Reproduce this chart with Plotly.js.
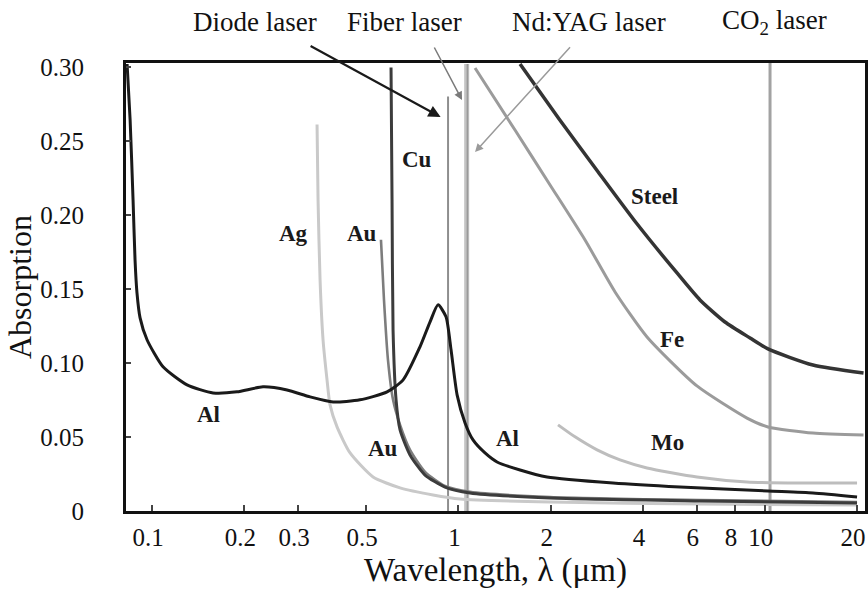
<!DOCTYPE html>
<html>
<head>
<meta charset="utf-8">
<script src="https://cdn.plot.ly/plotly-3.0.1.min.js"></script>
<style>
  html, body { margin: 0; padding: 0; background: #fff; }
  #chart { width: 868px; height: 589px; }
</style>
</head>
<body>
<div id="chart"></div>
<script>
// Absorption of metals versus wavelength (log axis), with common laser lines.

// Aluminium
const alWavelength = [0.0829, 0.0848, 0.0867, 0.0880, 0.0893, 0.0914, 0.0963, 0.1086, 0.1301, 0.1582,
  0.1894, 0.2303, 0.2758, 0.328, 0.390, 0.477, 0.585, 0.660, 0.749, 0.808, 0.858, 0.911, 0.946, 0.990,
  1.051, 1.116, 1.221, 1.337, 1.589, 1.946, 3.196, 5.287, 10.24, 14.36, 20.0];
const alAbsorption = [0.302, 0.2645, 0.2103, 0.1698, 0.1474, 0.1305, 0.1157, 0.0974, 0.0852, 0.0798,
  0.0805, 0.0839, 0.0818, 0.0771, 0.0737, 0.0751, 0.0805, 0.0886, 0.1109, 0.1278, 0.1393, 0.1312, 0.1089, 0.0785,
  0.0595, 0.0480, 0.0392, 0.0331, 0.0277, 0.0230, 0.0189, 0.0162, 0.0135, 0.0122, 0.0095];

// Copper
const cuWavelength = [0.6026, 0.6072, 0.6118, 0.6258, 0.6449, 0.6951, 0.778, 0.904, 1.091, 1.991, 6.143, 20.0];
const cuAbsorption = [0.2996, 0.2103, 0.1224, 0.0751, 0.0548, 0.0379, 0.0243, 0.0162, 0.0122, 0.0088, 0.0068, 0.0054];

// Gold
const auWavelength = [0.5587, 0.5715, 0.5889, 0.6118, 0.6449, 0.6951, 0.778, 0.904, 1.091, 1.991, 6.143, 20.0];
const auAbsorption = [0.1833, 0.1427, 0.1021, 0.0751, 0.0582, 0.0413, 0.0264, 0.0169, 0.0129, 0.0095, 0.0074, 0.0061];

// Silver
const agWavelength = [0.3456, 0.3482, 0.3535, 0.3615, 0.3725, 0.3810, 0.4016, 0.4430, 0.5265, 0.6449,
  0.8264, 1.012, 1.991, 6.143, 20.0];
const agAbsorption = [0.2611, 0.2103, 0.1562, 0.1157, 0.0886, 0.0717, 0.0568, 0.0392, 0.0230, 0.0156,
  0.0108, 0.0081, 0.0061, 0.0047, 0.0041];

// Steel
const steelWavelength = [1.589, 2.131, 2.858, 3.831, 5.137, 6.143, 7.413, 8.95, 10.24, 14.36, 21.0];
const steelAbsorption = [0.302, 0.2649, 0.2291, 0.1939, 0.1615, 0.1426, 0.1277, 0.1169, 0.1095, 0.0986, 0.0932];

// Iron
const feWavelength = [1.133, 1.530, 1.991, 2.590, 3.245, 4.126, 6.006, 8.748, 10.24, 14.36, 21.0];
const feAbsorption = [0.2993, 0.2574, 0.2203, 0.1831, 0.1480, 0.1176, 0.0845, 0.0628, 0.0568, 0.0527, 0.0514];

// Molybdenum
const moWavelength = [2.114, 2.402, 2.835, 3.368, 4.126, 6.006, 8.748, 13.03, 20.0];
const moAbsorption = [0.0582, 0.0501, 0.0413, 0.0345, 0.0291, 0.0230, 0.0196, 0.0189, 0.0189];

// Laser wavelengths (µm) and how far up each marker line reaches
const diodeLaser = [0.925, 0.925];
const diodeSpan = [0, 0.28];
const ndYagLaser = [1.064, 1.064];
const ndYagSpan = [0, 0.302];
const fiberLaser = [1.07, 1.07];
const fiberSpan = [0, 0.302];
const co2Laser = [10.4, 10.4];
const co2Span = [0, 0.305];

// Axis ticks
const xTickValues = [0.1, 0.2, 0.3, 0.5, 1, 2, 4, 6, 8, 10, 20];
const xTickLabels = ['0.1', '0.2', '0.3', '0.5', '1', '2', '4', '6', '8', '10', '20'];
const yTickValues = [0, 0.05, 0.10, 0.15, 0.20, 0.25, 0.30];
const yTickLabels = ['0', '0.05', '0.10', '0.15', '0.20', '0.25', '0.30'];

const serif = 'Liberation Serif, Times New Roman, serif';

function curve(name, x, y, color, width) {
  return {
    type: 'scatter', mode: 'lines', name: name, x: x, y: y,
    line: { color: color, width: width, shape: 'spline', smoothing: 0.6 },
    hoverinfo: 'skip'
  };
}
function marker(name, x, y, color, width) {
  return {
    type: 'scatter', mode: 'lines', name: name, x: x, y: y,
    line: { color: color, width: width }, hoverinfo: 'skip'
  };
}

const traces = [
  marker('Nd:YAG laser', ndYagLaser, ndYagSpan, '#c4c4c4', 5),
  marker('Fiber laser', fiberLaser, fiberSpan, '#9a9a9a', 1.6),
  marker('Diode laser', diodeLaser, diodeSpan, '#8e8e8e', 2),
  marker('CO2 laser', co2Laser, co2Span, '#a2a2a2', 3),
  curve('Ag', agWavelength, agAbsorption, '#c9c9c9', 3),
  curve('Mo', moWavelength, moAbsorption, '#bdbdbd', 3),
  curve('Fe', feWavelength, feAbsorption, '#9b9b9b', 3),
  curve('Au', auWavelength, auAbsorption, '#7d7d7d', 2.6),
  curve('Cu', cuWavelength, cuAbsorption, '#3c3c3c', 3),
  curve('Steel', steelWavelength, steelAbsorption, '#343434', 3.5),
  curve('Al', alWavelength, alAbsorption, '#1a1a1a', 3)
];

function label(text, x, y) {
  return {
    xref: 'paper', yref: 'paper', x: x, y: y, text: '<b>' + text + '</b>',
    showarrow: false, xanchor: 'center', yanchor: 'middle',
    font: { family: serif, size: 23, color: '#1a1a1a' }
  };
}
function laserTitle(text, x) {
  return {
    xref: 'paper', yref: 'paper', x: x, y: 1.0915, text: text,
    showarrow: false, xanchor: 'center', yanchor: 'middle',
    font: { family: serif, size: 27, color: '#111' }
  };
}
function pointer(x, y, ax, ay, color, width) {
  return {
    xref: 'paper', yref: 'paper', x: x, y: y, ax: ax, ay: ay, text: ' ',
    showarrow: true, arrowhead: 2, arrowsize: 1.1, arrowwidth: width, arrowcolor: color,
    font: { size: 2 }
  };
}

const annotations = [
  laserTitle('Diode laser', 0.1746),
  laserTitle('Fiber laser', 0.3762),
  laserTitle('Nd:YAG laser', 0.6265),
  laserTitle('CO<sub>2</sub> laser', 0.8769),
  pointer(0.4257, 0.8795, -132, -72, '#1a1a1a', 2.2),
  pointer(0.4547, 0.9174, -29, -55, '#7a7a7a', 1.5),
  pointer(0.4723, 0.8013, 97, -107, '#9a9a9a', 1.5),
  label('Al', 0.111, 0.2143),
  label('Ag', 0.226, 0.6205),
  label('Au', 0.3194, 0.6205),
  label('Cu', 0.3938, 0.7835),
  label('Au', 0.3478, 0.1406),
  label('Al', 0.5156, 0.1629),
  label('Steel', 0.7145, 0.7009),
  label('Fe', 0.7390, 0.3817),
  label('Mo', 0.7334, 0.1518)
];

const layout = {
  width: 868, height: 589,
  margin: { l: 126, r: 3, t: 63, b: 78 },
  paper_bgcolor: '#fff', plot_bgcolor: '#fff',
  showlegend: false,
  font: { family: serif, color: '#111' },
  xaxis: {
    type: 'log', range: [-1.085, 1.327],
    tickvals: xTickValues, ticktext: xTickLabels,
    ticks: 'inside', ticklen: 6, tickwidth: 2, tickcolor: '#444',
    showgrid: false, zeroline: false,
    showline: true, mirror: true, linewidth: 3, linecolor: '#111',
    tickfont: { family: serif, size: 25, color: '#111' },
    ticklabelstandoff: 2, ticklabelshift: -4, ticklabeloverflow: 'allow',
    title: { text: 'Wavelength, λ (μm)', font: { family: serif, size: 33, color: '#111' } }
  },
  yaxis: {
    range: [0, 0.3027],
    tickvals: yTickValues, ticktext: yTickLabels,
    ticks: 'inside', ticklen: 5, tickwidth: 1.5, tickcolor: '#444',
    showgrid: false, zeroline: false,
    showline: true, mirror: true, linewidth: 3, linecolor: '#111',
    tickfont: { family: serif, size: 25, color: '#111' },
    ticklabelstandoff: 34, ticklabeloverflow: 'allow',
    title: { text: 'Absorption', font: { family: serif, size: 32, color: '#111' } }
  },
  annotations: annotations
};

Plotly.newPlot('chart', traces, layout, { displayModeBar: false, staticPlot: true });
</script>
</body>
</html>
